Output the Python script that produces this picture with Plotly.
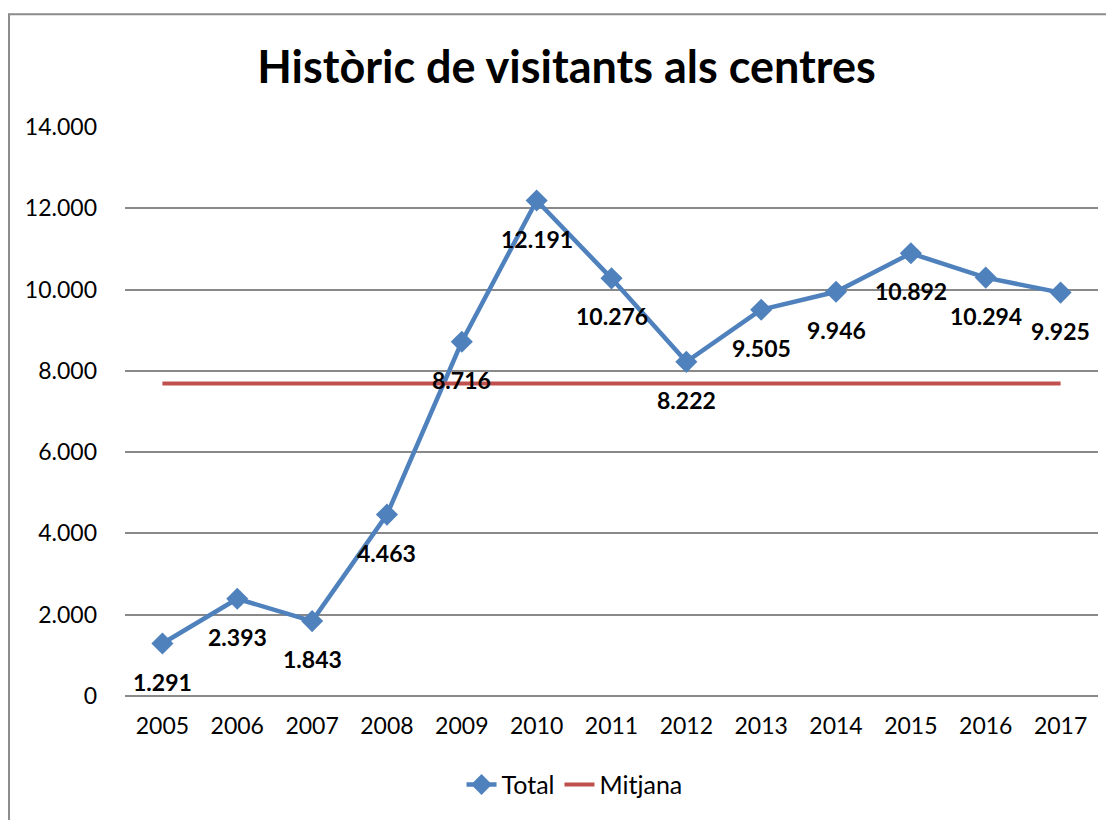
import plotly.graph_objects as go

YEARS = [2005, 2006, 2007, 2008, 2009, 2010, 2011,
         2012, 2013, 2014, 2015, 2016, 2017]
TOTAL = [1291, 2393, 1843, 4463, 8716, 12191, 10276,
         8222, 9505, 9946, 10892, 10294, 9925]
MITJANA = [7689, 7689, 7689, 7689, 7689, 7689, 7689,
           7689, 7689, 7689, 7689, 7689, 7689]
Y_TICKS = [0, 2000, 4000, 6000, 8000, 10000, 12000, 14000]

FONT = "Lato"
BLUE = "#4F81BD"
RED = "#C0504D"
GRID = "#898989"


def fmt(v):
    return f"{v:,}".replace(",", ".")


def main():
    fig = go.Figure()

    fig.add_trace(go.Scatter(
        x=YEARS, y=TOTAL, name="Total",
        mode="lines+markers",
        line=dict(color=BLUE, width=4.5),
        marker=dict(symbol="diamond", size=17, color=BLUE),
    ))
    fig.add_trace(go.Scatter(
        x=YEARS, y=MITJANA, name="Mitjana",
        mode="lines",
        line=dict(color=RED, width=4),
    ))

    # etiquetes sota cada punt
    labels = [
        dict(x=yr, y=v, xref="x", yref="y", text=f"<b>{fmt(v)}</b>",
             showarrow=False, yshift=-38,
             font=dict(family=FONT, size=23, color="#000000"))
        for yr, v in zip(YEARS, TOTAL)
    ]

    # la pàgina té un marge de 8px, per això la figura és una mica més petita
    fig.update_layout(
        width=1106,
        height=812,
        paper_bgcolor="white",
        plot_bgcolor="white",
        margin=dict(l=117, r=16, t=119, b=122),
        title=dict(
            text="<b>Històric de visitants als centres</b>",
            x=0.505, xanchor="center", y=0.927, yanchor="middle",
            font=dict(family=FONT, size=45, color="#000000"),
        ),
        font=dict(family=FONT, size=23, color="#000000"),
        xaxis=dict(
            range=[2004.5, 2017.5],
            tickvals=YEARS,
            ticktext=[str(y) for y in YEARS],
            showgrid=False,
            showline=False,
            zeroline=False,
            ticks="",
            ticklabelstandoff=14,
        ),
        yaxis=dict(
            range=[0, 14000],
            tickvals=Y_TICKS,
            ticktext=[fmt(t) for t in Y_TICKS],
            showgrid=True,
            gridcolor=GRID,
            gridwidth=1.5,
            zeroline=True,
            zerolinecolor=GRID,
            zerolinewidth=1.5,
            showline=False,
            ticks="",
            ticklabelstandoff=27,
        ),
        legend=dict(
            orientation="h",
            x=0.462, xanchor="center",
            y=-0.156, yanchor="middle",
            font=dict(size=25),
        ),
        annotations=labels,
        shapes=[
            dict(type="rect", xref="paper", yref="paper",
                 x0=-0.1192, x1=1.2, y0=-0.3, y1=1.198,
                 line=dict(color="#8c8c8c", width=2), layer="below"),
        ],
    )

    fig.write_html("out.html")


if __name__ == "__main__":
    main()
